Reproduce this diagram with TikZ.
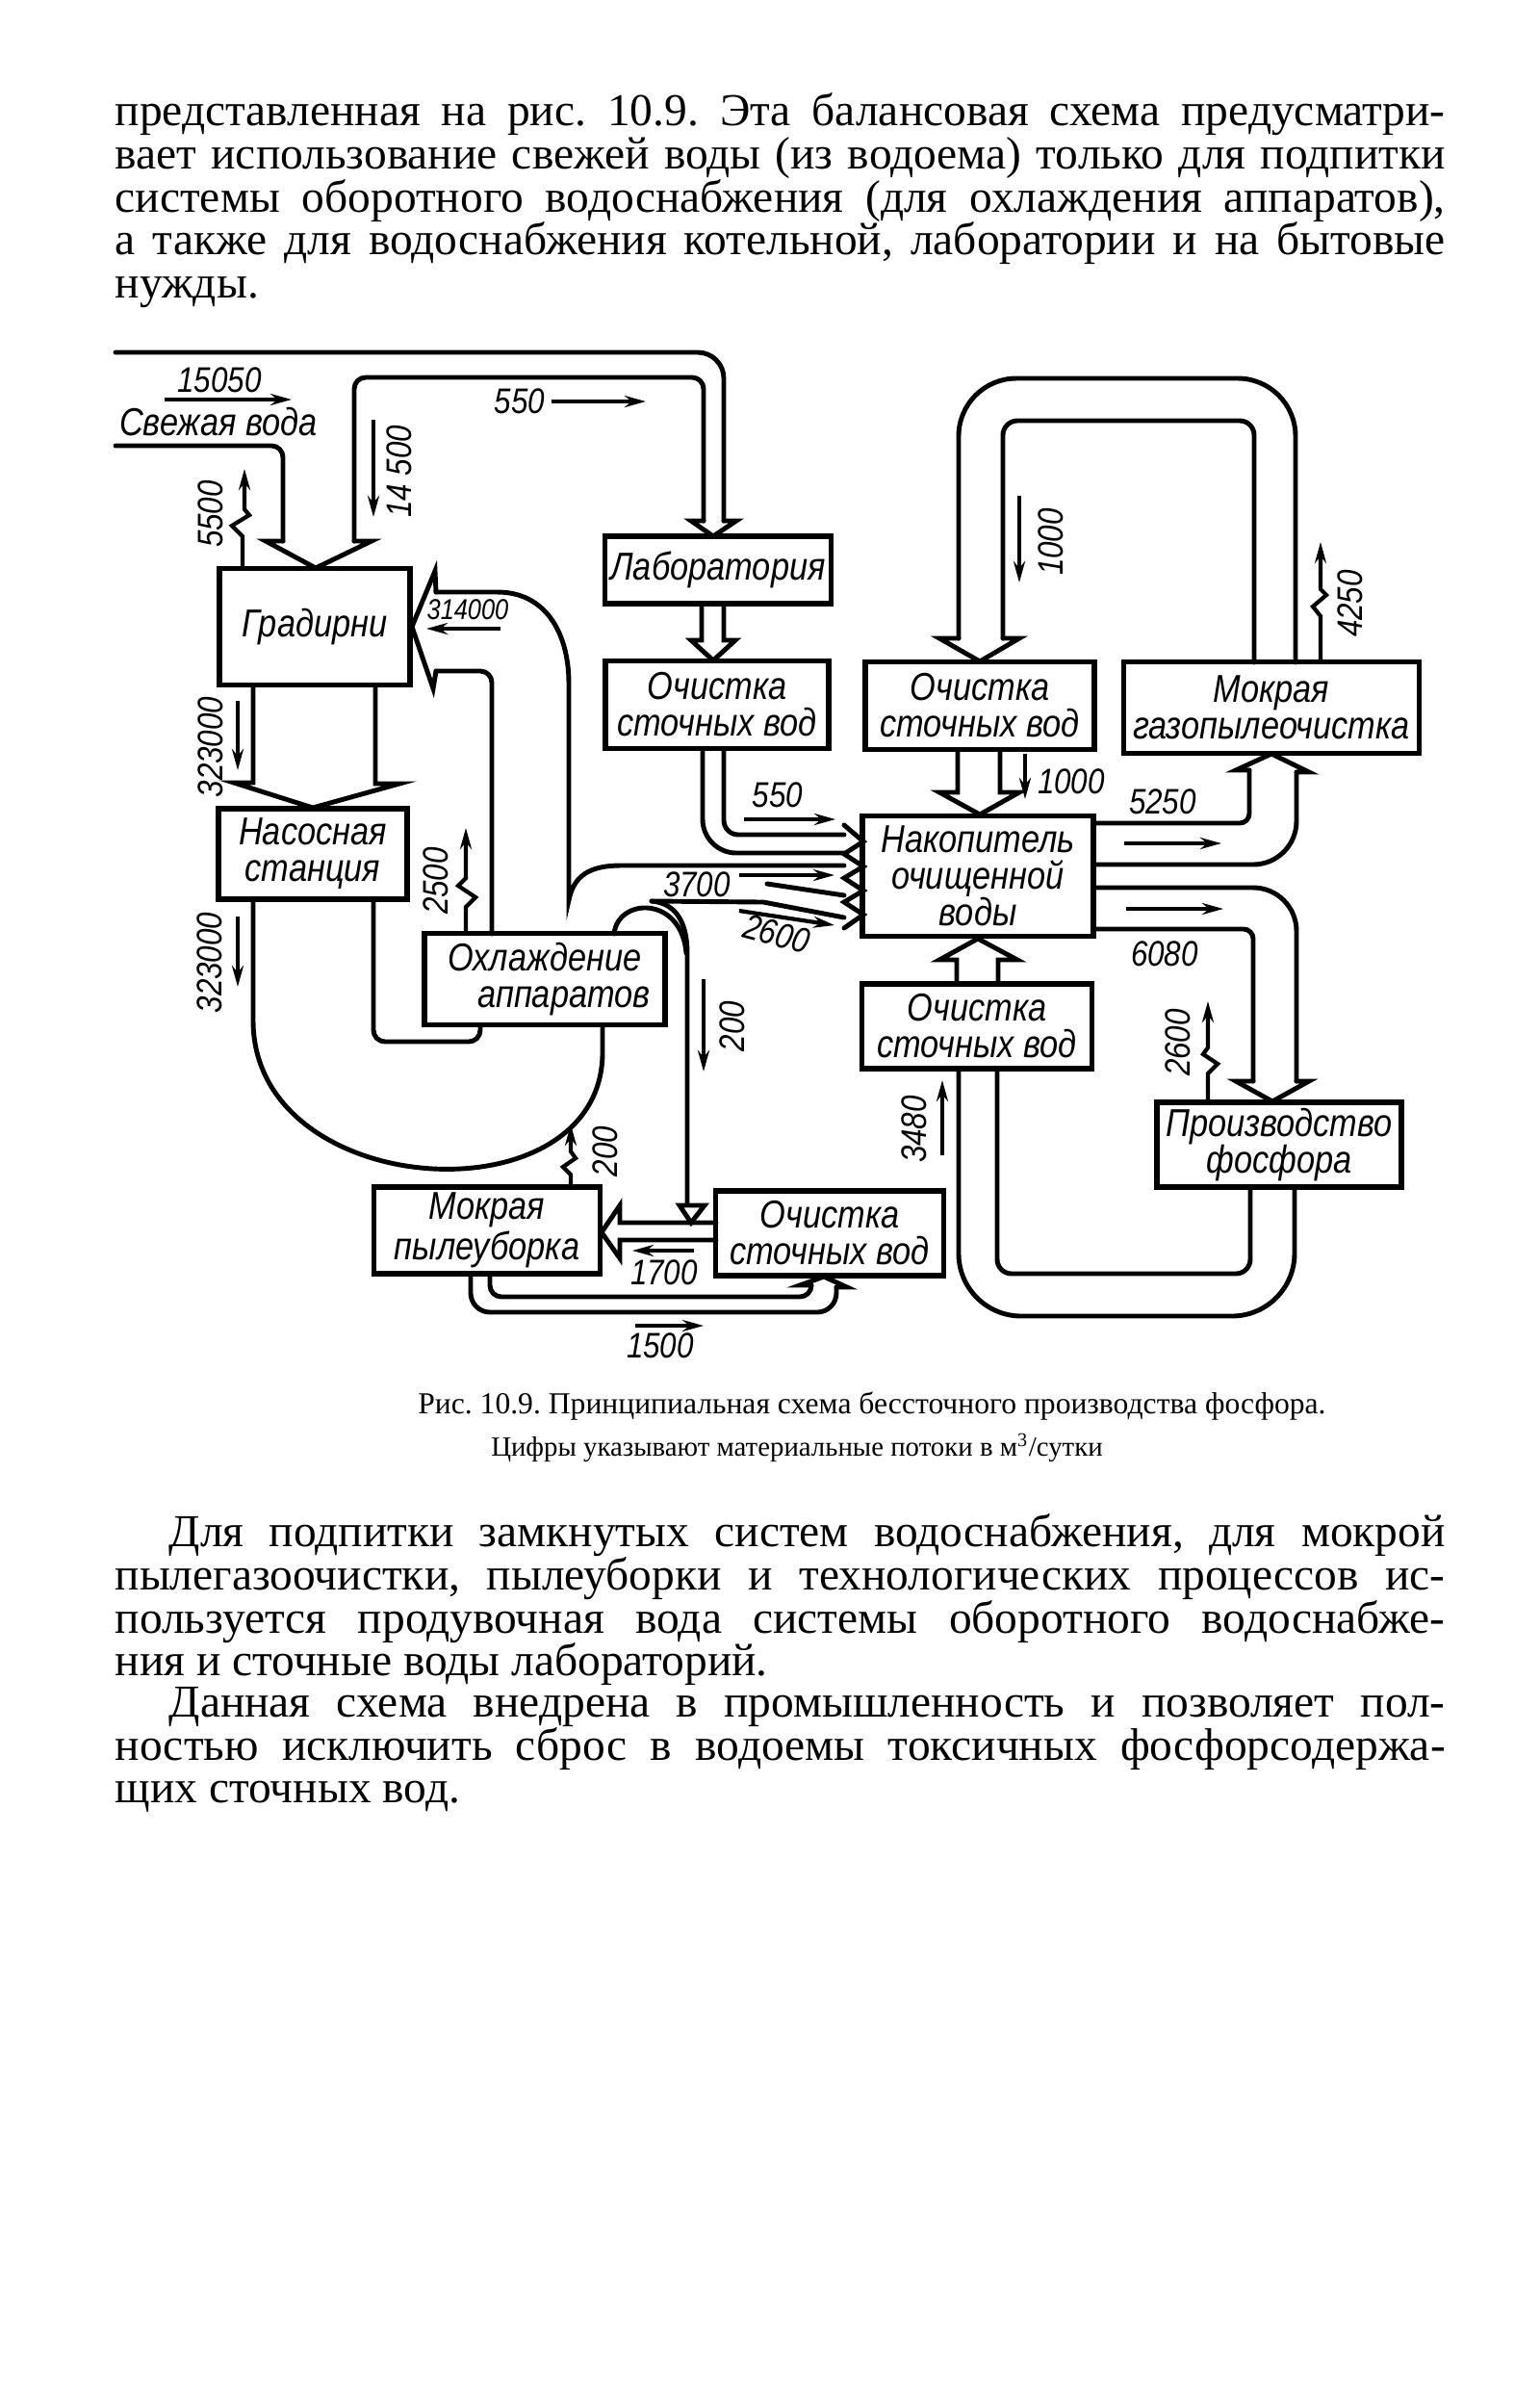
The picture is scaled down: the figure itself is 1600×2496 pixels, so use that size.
\documentclass[tikz,border=0pt]{standalone}
\usepackage{fontspec}
\setmainfont{Liberation Serif}
\newfontfamily\labfont{Liberation Sans}[FakeStretch=0.85]
\usepackage{tikz}
\usetikzlibrary{arrows.meta}
\frenchspacing

\begin{document}
\begin{tikzpicture}[x=0.1mm, y=-0.1mm,
	box/.style={draw=black, line width=1.6pt, inner sep=0pt, align=center, font=\labfont\itshape\fontsize{11.5}{10.8}\selectfont},
	num/.style={inner sep=0pt, font=\labfont\itshape\fontsize{10.5}{10.5}\selectfont},
	pipe/.style={line width=1.4pt, line cap=round},
	flow/.style={line width=1.2pt, -{Stealth[length=2.2mm, width=1.2mm]}},
	txt/.style={anchor=base west, inner sep=0pt, font=\fontsize{13.5}{15}\selectfont},
	capline/.style={anchor=base, inner sep=0pt}]
	\useasboundingbox (0,0) rectangle (1600,2496);

	\node[txt] (tA) at (119,130) {\makebox[13.82cm][s]{представленная на рис. 10.9. Эта балансовая схема предусматри-}};
	\node[txt] (tB) at (119,175) {\makebox[13.82cm][s]{вает использование свежей воды (из водоема) только для подпитки}};
	\node[txt] (tC) at (119,220) {\makebox[13.82cm][s]{системы оборотного водоснабжения (для охлаждения аппаратов),}};
	\node[txt] (tD) at (119,264) {\makebox[13.82cm][s]{а также для водоснабжения котельной, лаборатории и на бытовые}};
	\node[txt] (tE) at (119,309) {нужды.};

	\node[box, minimum width=19.8mm, minimum height=12.1mm] (grad) at (327,651) {Градирни};
	\node[box, minimum width=19.6mm, minimum height=9.4mm] (nasos) at (325,887) {Насосная\\станция};
	\node[box, minimum width=23.5mm, minimum height=7.0mm] (lab) at (746,592) {Лаборатория};
	\node[box, minimum width=23.2mm, minimum height=9.1mm] (ochA) at (745,732) {Очистка\\сточных вод};
	\node[box, minimum width=23.8mm, minimum height=9.1mm] (ochB) at (1018,733) {Очистка\\сточных вод};
	\node[box, minimum width=30.7mm, minimum height=9.5mm] (gaz) at (1321,735) {Мокрая\\газопылеочистка};
	\node[box, minimum width=24.0mm, minimum height=12.5mm] (nakop) at (1016,910) {Накопитель\\очищенной\\воды};
	\node[box, minimum width=25.0mm, minimum height=9.5mm] (ohl) at (566,1017) {Охлаждение\\\hspace*{4mm}аппаратов};
	\node[box, minimum width=23.9mm, minimum height=8.8mm] (ochC) at (1015,1066) {Очистка\\сточных вод};
	\node[box, minimum width=25.4mm, minimum height=8.8mm] (fosf) at (1329,1189) {Производство\\фосфора};
	\node[box, minimum width=23.5mm, minimum height=9.0mm] (pyl) at (506,1278) {Мокрая\\пылеуборка};
	\node[box, minimum width=23.7mm, minimum height=8.8mm] (ochD) at (862,1281) {Очистка\\сточных вод};

	\draw[pipe, rounded corners=2.7mm] (120,366) -- (752,366) -- (752,541);
	\draw[pipe] (752,541) -- (765,541) -- (741,557) -- (718,541) -- (731,541);
	\draw[pipe, rounded corners=1.2mm] (731,541) -- (731,392) -- (368,392) -- (368,562);
	\draw[pipe] (368,562) -- (386,562) -- (328,590) -- (276,562) -- (294,562);
	\draw[pipe, rounded corners=1.2mm] (294,562) -- (294,463) -- (120,463);

	\draw[pipe] (729,627) -- (729,665) -- (718,665) -- (741,686) -- (764,665) -- (752,665) -- (752,627);
	\draw[pipe] (263,712) -- (263,813) -- (243,813) -- (325,839) -- (415,814) -- (390,814) -- (390,712);

	\draw[pipe] (453,615) -- (452,593) -- (428,651) -- (450,715) -- (453,697);
	\draw[pipe] (453,615) -- (517,615) .. controls (565,615) and (591,655) .. (591,710) -- (591,935) .. controls (596,910) and (612,899) .. (645,899) -- (877,899);
	\draw[pipe, rounded corners=1.2mm] (453,697) -- (511,697) -- (511,970);
	\draw[pipe, rounded corners=3.5mm] (730,778) -- (730,886) -- (877,886);
	\draw[pipe, rounded corners=1.5mm] (752,778) -- (752,867) -- (877,867);
	\draw[pipe] (797,918) -- (877,930);
	\draw[pipe] (677,936) -- (793,937) -- (877,953);
	\draw[pipe] (877,857) -- (897,874) -- (877,887) -- (897,900) -- (877,912) -- (897,925) -- (877,937) -- (897,950) -- (877,964);
	\draw[pipe] (677,936) .. controls (700,938) and (714,955) .. (714,990) -- (714,1252);
	\draw[pipe] (638,970) .. controls (642,932) and (708,930) .. (713,990);

	\draw[pipe] (263,934) -- (263,1060) .. controls (263,1250) and (630,1270) .. (626,1090) -- (626,1065);
	\draw[pipe, rounded corners=1.2mm] (388,934) -- (388,1082) -- (499,1082) -- (499,1065);

	\draw[pipe, rounded corners=6mm] (1346,688) -- (1346,393) -- (996,393) -- (996,663);
	\draw[pipe] (996,663) -- (976,663) -- (1018,687) -- (1059,663) -- (1042,663);
	\draw[pipe, rounded corners=1.5mm] (1042,663) -- (1042,437) -- (1303,437) -- (1303,688);
	\draw[pipe] (995,779) -- (995,823) -- (976,823) -- (1018,846) -- (1059,823) -- (1039,823) -- (1039,779);

	\draw[pipe, rounded corners=1mm] (1136,855) -- (1298,855) -- (1298,800);
	\draw[pipe] (1298,800) -- (1284,800) -- (1321,783) -- (1360,802) -- (1347,802);
	\draw[pipe, rounded corners=4.5mm] (1347,802) -- (1347,898) -- (1136,898);
	\draw[pipe, rounded corners=4.5mm] (1136,922) -- (1347,922) -- (1347,1123);
	\draw[pipe] (1347,1123) -- (1360,1123) -- (1322,1144) -- (1284,1123) -- (1302,1123);
	\draw[pipe, rounded corners=1mm] (1302,1123) -- (1302,965) -- (1136,965);

	\draw[pipe] (994,1022) -- (994,997) -- (976,997) -- (1016,975) -- (1057,997) -- (1037,997) -- (1037,1022);
	\draw[pipe, rounded corners=6.5mm] (1345,1233) -- (1345,1367) -- (996,1367) -- (996,1110);
	\draw[pipe, rounded corners=1.5mm] (1299,1233) -- (1299,1323) -- (1036,1323) -- (1036,1110);

	\draw[pipe] (744,1270) -- (644,1270) -- (644,1252) -- (625,1280) -- (644,1307) -- (644,1288) -- (744,1288);
	\draw[pipe, fill=white] (706,1252) -- (732,1252) -- (718,1270) -- cycle;
	\draw[pipe, rounded corners=1.2mm] (509,1323) -- (509,1347) -- (843,1347) -- (843,1335);
	\draw[pipe] (843,1335) -- (831,1335) -- (856,1326) -- (880,1337) -- (869,1337);
	\draw[pipe, rounded corners=2mm] (869,1337) -- (869,1363) -- (489,1363) -- (489,1323);

	\draw[flow] (171,415) -- (303,415);
	\draw[flow] (573,417) -- (671,417);
	\draw[flow] (388,436) -- (388,537);
	\draw[flow] (252,591) -- (252,557) -- (241,546) -- (259,535) -- (254,529) -- (254,487);
	\draw[flow] (247,728) -- (247,800);
	\draw[flow] (247,952) -- (247,1025);
	\draw[flow] (520,653) -- (443,653);
	\draw[flow] (484,970) -- (484,942) -- (494,932) -- (476,920) -- (484,912) -- (484,860);
	\draw[flow] (773,851) -- (868,851);
	\draw[flow] (768,909) -- (867,909);
	\draw[flow] (768,946) -- (867,961);
	\draw[flow] (731,1017) -- (731,1113);
	\draw[flow] (593,1233) -- (593,1220) -- (585,1212) -- (598,1203) -- (593,1196) -- (593,1168);
	\draw[flow] (721,1299) -- (657,1299);
	\draw[flow] (660,1377) -- (731,1377);
	\draw[flow] (979,1200) -- (979,1122);
	\draw[flow] (1065,783) -- (1065,830);
	\draw[flow] (1059,515) -- (1059,605);
	\draw[flow] (1372,688) -- (1372,640) -- (1364,630) -- (1378,618) -- (1372,612) -- (1372,563);
	\draw[flow] (1168,876) -- (1269,876);
	\draw[flow] (1170,944) -- (1271,944);
	\draw[flow] (1255,1145) -- (1255,1115) -- (1265,1105) -- (1250,1095) -- (1255,1088) -- (1255,1040);

	\node[num] (n15050) at (228,395) {15050};
	\node[num, font=\labfont\itshape\fontsize{11.5}{11.5}\selectfont] (nfresh) at (227,438) {Свежая вода};
	\node[num] (n550a) at (540,417) {550};
	\node[num, rotate=90] (n5500) at (219,534) {5500};
	\node[num, rotate=90] (n14500) at (415,490) {14 500};
	\node[num, font=\labfont\itshape\fontsize{8.5}{8.5}\selectfont] (n314000) at (486,633) {314000};
	\node[num, rotate=90] (n323000a) at (219,776) {323000};
	\node[num, rotate=90] (n323000b) at (218,1000) {323000};
	\node[num, rotate=90] (n2500) at (453,915) {2500};
	\node[num] (n3700) at (724,919) {3700};
	\node[num, rotate=-15] (n2600a) at (807,970) {2600};
	\node[num] (n550b) at (808,826) {550};
	\node[num, rotate=90] (n200a) at (761,1066) {200};
	\node[num, rotate=90] (n200b) at (629,1196) {200};
	\node[num] (n1700) at (690,1322) {1700};
	\node[num] (n1500) at (686,1398) {1500};
	\node[num, rotate=90] (n3480) at (950,1173) {3480};
	\node[num] (n1000a) at (1113,812) {1000};
	\node[num, rotate=90] (n1000b) at (1092,563) {1000};
	\node[num, rotate=90] (n4250) at (1403,627) {4250};
	\node[num] (n5250) at (1208,833) {5250};
	\node[num] (n6080) at (1210,991) {6080};
	\node[num, rotate=90] (n2600b) at (1224,1083) {2600};

	\node[capline, font=\fontsize{9}{11}\selectfont] (capA) at (906,1468) {Рис. 10.9. Принципиальная схема бессточного производства фосфора.};
	\node[capline, font=\fontsize{8.2}{10}\selectfont] (capB) at (828,1512) {Цифры указывают материальные потоки в м\textsuperscript{3}/сутки};

	\node[txt] (tF) at (175,1606) {\makebox[13.26cm][s]{Для подпитки замкнутых систем водоснабжения, для мокрой}};
	\node[txt] (tG) at (119,1651) {\makebox[13.82cm][s]{пылегазоочистки, пылеуборки и технологических процессов ис-}};
	\node[txt] (tH) at (119,1696) {\makebox[13.82cm][s]{пользуется продувочная вода системы оборотного водоснабже-}};
	\node[txt] (tI) at (119,1740) {ния и сточные воды лабораторий.};
	\node[txt] (tJ) at (175,1783) {\makebox[13.26cm][s]{Данная схема внедрена в промышленность и позволяет пол-}};
	\node[txt] (tK) at (119,1828) {\makebox[13.82cm][s]{ностью исключить сброс в водоемы токсичных фосфорсодержа-}};
	\node[txt] (tL) at (119,1872) {щих сточных вод.};
\end{tikzpicture}
\end{document}
